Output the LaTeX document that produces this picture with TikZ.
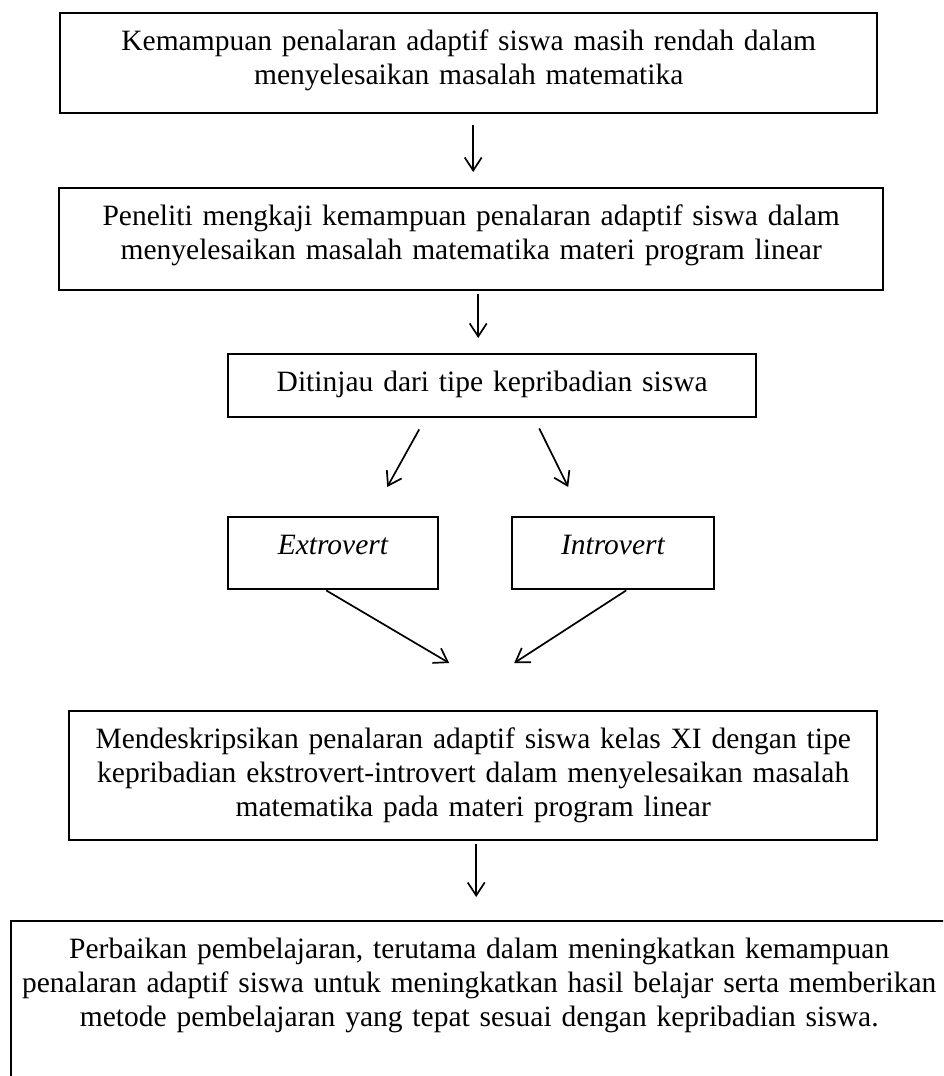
\documentclass[tikz,border=0pt]{standalone}
\usepackage{fontspec}
\setmainfont{Liberation Serif}
\usetikzlibrary{arrows.meta}

\begin{document}
\begin{tikzpicture}[
  x=1pt,y=-1pt,
  every node/.style={font=\fontsize{29.5}{34}\selectfont,align=center},
  box/.style={draw,line width=2.4pt,anchor=north west,inner sep=0pt,text height=37pt},
  arr/.style={-{Straight Barb[length=13pt,width=17pt]},line width=1.7pt}
]
\clip (0,0) rectangle (943,1076);

\node[box,text width=817pt,text depth=63pt] (problem) at (59,12)
  {Kemampuan penalaran adaptif siswa masih rendah dalam\\menyelesaikan masalah matematika};
\node[box,text width=824pt,text depth=65pt] (study) at (58,187)
  {Peneliti mengkaji kemampuan penalaran adaptif siswa dalam\\menyelesaikan masalah matematika materi program linear};
\node[box,text width=528pt,text depth=26pt] (focus) at (227,353)
  {Ditinjau dari tipe kepribadian siswa};
\node[box,text width=210pt,text depth=35pt] (extro) at (227,516) {\textit{Extrovert}};
\node[box,text width=202pt,text depth=35pt] (intro) at (511,516) {\textit{Introvert}};
\node[box,text width=808pt,text depth=92pt] (aim) at (68,710)
  {Mendeskripsikan penalaran adaptif siswa kelas XI dengan tipe\\kepribadian ekstrovert-introvert dalam menyelesaikan masalah\\matematika pada materi program linear};
\node[box,text width=936pt,text depth=143pt] (final) at (10,920)
  {Perbaikan pembelajaran, terutama dalam meningkatkan kemampuan\\penalaran adaptif siswa untuk meningkatkan hasil belajar serta memberikan\\metode pembelajaran yang tepat sesuai dengan kepribadian siswa.};

\draw[arr] ([shift={(4.5,11)}]problem.south) -- ([shift={(2,-15)}]study.north);
\draw[arr] ([shift={(7,3)}]study.south) -- ([shift={(-14,-15)}]focus.north);
\draw[arr] ([shift={(-73,11)}]focus.south) -- ([shift={(54,-29)}]extro.north);
\draw[arr] ([shift={(47,10)}]focus.south) -- ([shift={(-45,-29)}]intro.north);
\draw[arr] ([shift={(-7,0)}]extro.south) -- ([shift={(-24,-47)}]aim.north);
\draw[arr] ([shift={(13,0)}]intro.south) -- ([shift={(41,-47)}]aim.north);
\draw[arr] ([shift={(3,3)}]aim.south) -- ([shift={(-3,-23)}]final.north);
\end{tikzpicture}
\end{document}
